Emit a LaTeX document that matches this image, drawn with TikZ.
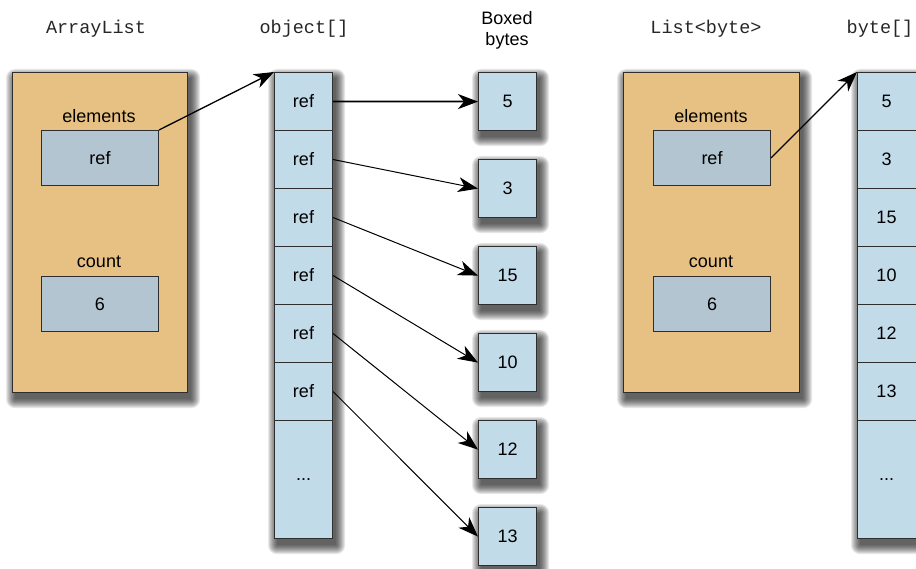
\documentclass[tikz,border=0pt]{standalone}
\usepackage{fontspec}
\setmainfont{Liberation Sans}
\setmonofont{Liberation Mono}
\usetikzlibrary{arrows.meta}
\definecolor{objfill}{HTML}{E7C183}
\definecolor{reffill}{HTML}{B3C5D1}
\definecolor{cellfill}{HTML}{C2DBE9}
\definecolor{edgecol}{HTML}{2E2E2E}
\newcommand\diafont{\fontsize{18}{21}\selectfont}
\pgfdeclarelayer{shadowlayer}
\pgfsetlayers{shadowlayer,main}
\begin{document}
\begin{tikzpicture}[x=1pt,y=-1pt,
  objbox/.style={draw=edgecol,line width=1.2pt,fill=objfill,minimum width=175pt,minimum height=320pt,anchor=north west,inner sep=0pt},
  refbox/.style={draw=edgecol,line width=1pt,fill=reffill,minimum width=117pt,minimum height=55pt,anchor=north west,inner sep=0pt,font=\diafont},
  cell/.style={draw=edgecol,line width=1pt,fill=cellfill,minimum width=58pt,minimum height=58pt,anchor=north west,inner sep=0pt,font=\diafont},
  colbox/.style={draw=edgecol,line width=1.2pt,fill=cellfill,anchor=north west,inner sep=0pt},
  byteb/.style={cell,line width=1.2pt},
  hdr/.style={font=\ttfamily\fontsize{18.5}{20}\selectfont,text=black!85},
  lbl/.style={font=\diafont},
  shadowpart/.style={fill=black,opacity=0.09},
  arr/.style={draw=black,line width=1pt,-{Stealth[length=20pt,width=15pt,inset=6pt]}},
]
\useasboundingbox (0,0) rectangle (916,569);
\clip (0,0) rectangle (916,569);

% headers
\node[hdr] (hal) at (96,29) {ArrayList};
\node[hdr] (hobj) at (304,29) {object[]};
\node[lbl,align=center] (hbox) at (507,30) {Boxed\\bytes};
\node[hdr] (hlist) at (706,29) {List<byte>};
\node[hdr] (hbyte) at (880,29) {byte[]};

% ArrayList object
\node[objbox] (al) at (12,72) {};
\node[lbl] (el1) at (99,116) {elements};
\node[refbox] (r1) at (41,130) {ref};
\node[lbl] (ct1) at (99,262) {count};
\node[refbox] (n1) at (41,276) {6};

% object[] column
\node[colbox,minimum width=58pt,minimum height=466pt] (objcol) at (274,72) {};
\foreach \i in {1,...,6} {
  \node[cell] (c\i) at (274,{72+58*(\i-1)}) {ref};
}
\node[cell,minimum height=118pt] (cdots) at (274,420) {...};

% boxed bytes
\foreach \i/\v in {1/5,2/3,3/15,4/10,5/12,6/13} {
  \node[byteb] (b\i) at (478,{72+87*(\i-1)}) {\v};
}

% List<byte> object
\node[objbox,minimum width=176pt] (lb) at (623,72) {};
\node[lbl] (el2) at (711,116) {elements};
\node[refbox] (r2) at (653,130) {ref};
\node[lbl] (ct2) at (711,262) {count};
\node[refbox] (n2) at (653,276) {6};

% byte[] column
\node[colbox,minimum width=62pt,minimum height=466pt] (bytecol) at (857,72) {};
\foreach \i/\v in {1/5,2/3,3/15,4/10,5/12,6/13} {
  \node[cell,minimum width=62pt] (d\i) at (857,{72+58*(\i-1)}) {\hspace*{-4pt}\v};
}
\node[cell,minimum width=62pt,minimum height=118pt] (ddots) at (857,420) {\hspace*{-4pt}...};

% soft drop shadows
\begin{pgfonlayer}{shadowlayer}
\foreach \n in {al,lb,objcol,bytecol,b1,b2,b3,b4,b5,b6} {
  \foreach \k in {0,...,9} {
    \fill[shadowpart,rounded corners=\k pt]
      ([shift={(3-\k,6-\k)}]\n.north west) rectangle ([shift={(3+\k,6+\k)}]\n.south east);
  }
}
\end{pgfonlayer}

% arrows
\draw[arr,line width=1.3pt] (r1.north east) -- (objcol.north west);
\draw[arr,line width=1.8pt] (c1.east) -- (b1.west);
\foreach \i in {2,...,6} {
  \draw[arr] (c\i.east) -- (b\i.west);
}
\draw[arr,line width=1.3pt] (r2.east) -- (bytecol.north west);
\end{tikzpicture}
\end{document}
